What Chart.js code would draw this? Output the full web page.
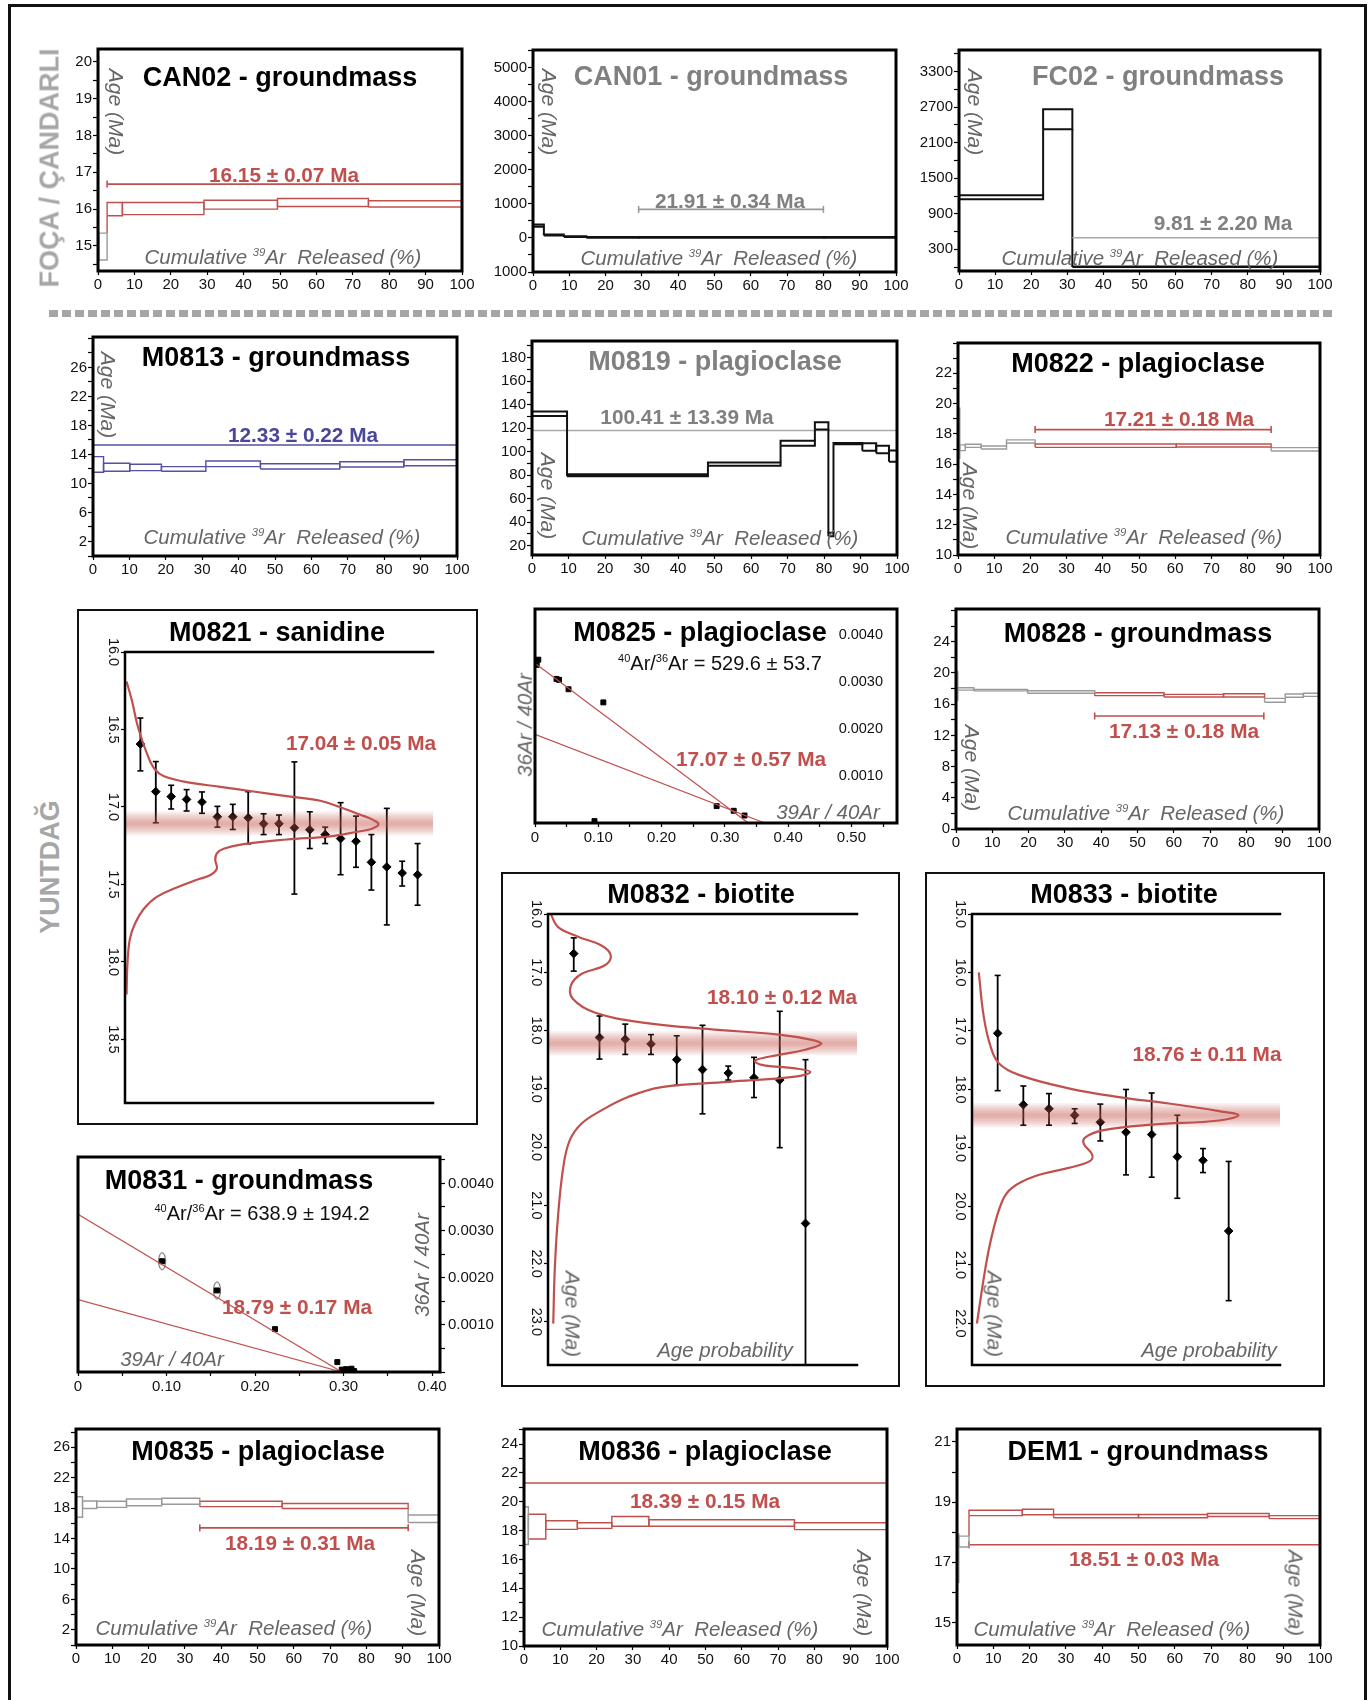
<!DOCTYPE html>
<html><head><meta charset="utf-8">
<script src="https://cdn.jsdelivr.net/npm/chart.js@4.4.1/dist/chart.umd.min.js"></script>
<style>
html,body{margin:0;padding:0;background:#fff}
body{width:1370px;height:1700px;position:relative;overflow:hidden;font-family:"Liberation Sans",Arial,Helvetica,sans-serif}
canvas{position:absolute}
.t{position:absolute;white-space:nowrap;line-height:1;transform-origin:50% 50%;z-index:5}
.ti{font-weight:bold;font-size:27px;color:#000}
.tg{color:#808080}
.pl{font-weight:bold;font-size:20.8px}
.red{color:#c0504d}.blue{color:#4a4699}.gt{color:#808080}
.ax{font-style:italic;font-size:20.5px;color:#666}
.ag{font-style:italic;font-size:21px;color:#666}
.rt{font-size:20px;color:#111}
.side{font-weight:bold;font-size:27px;color:#a6a6a6}
sup{font-size:0.55em;vertical-align:0;position:relative;top:-0.75em;line-height:0}
.frame{position:absolute;border:3px solid #111;box-sizing:border-box}
</style></head><body>
<div class="frame" style="left:8px;top:4px;width:1359px;height:1730px"></div>
<div style="position:absolute;left:49px;top:310px;width:1284px;height:7px;background:repeating-linear-gradient(90deg,#a6a6a6 0 9px,transparent 9px 13px)"></div>
<div class="frame" style="left:77px;top:609px;width:401px;height:516px;border-width:2.5px"></div>
<div class="frame" style="left:501px;top:872px;width:399px;height:515px;border-width:2.5px"></div>
<div class="frame" style="left:925px;top:872px;width:400px;height:515px;border-width:2.5px"></div>
<script>
// ================= DATA =================
const pctTicks = [0,10,20,30,40,50,60,70,80,90,100];

// --- CAN02 groundmass (step heating) ---
const can02Cum = [0, 0.25, 2.5, 6.7, 29.1, 49.3, 74.3, 100];
const can02Lo  = [14.4, 14.62, 15.82, 15.85, 16.0, 16.07, 16.06];
const can02Hi  = [20.15, 15.35, 16.18, 16.18, 16.24, 16.29, 16.23];
const can02Cls = ['g','g','r','r','r','r','r'];
const can02Plateau = [2.5, 100, 16.68];
const can02YTicks = [15,16,17,18,19,20];

// --- CAN01 groundmass ---
const can01Cum = [0, 3, 8.5, 14.7, 29, 80, 100];
const can01Lo  = [330, 75, 30, 5, 5, 5];
const can01Hi  = [395, 100, 50, 25, 25, 25];
const can01Cls = ['k','k','k','k','k','k'];
const can01Plateau = [29.1, 80, 838];
const can01YTicks = [-1000,0,1000,2000,3000,4000,5000];

// --- FC02 groundmass ---
const fc02Cum = [0, 23.3, 31.4, 49, 55, 63, 100];
const fc02Lo  = [1145, 2328, 0, 0, 0, 0];
const fc02Hi  = [1212, 2666, 8, 10, 8, 10];
const fc02Cls = ['k','k','k','k','k','k'];
const fc02Plateau = [31.4, 100, 496];
const fc02YTicks = [300,900,1500,2100,2700,3300];

// --- M0813 groundmass ---
const m0813Cum = [0, 2.9, 10.1, 18.8, 31, 46, 67.8, 85.4, 100];
const m0813Lo  = [11.55, 11.68, 11.77, 11.68, 12.32, 12.0, 12.27, 12.45];
const m0813Hi  = [13.7, 12.78, 12.65, 12.32, 13.1, 12.73, 13.0, 13.28];
const m0813Cls = ['b','b','b','b','b','b','b','b'];
const m0813Plateau = [0, 100, 15.3];
const m0813YTicks = [2,6,10,14,18,22,26];

// --- M0819 plagioclase ---
const m0819Cum = [0, 9.6, 48.2, 68.1, 77.5, 81.2, 82.6, 90.5, 94.3, 97.8, 100];
const m0819Lo  = [130.3, 79.1, 88, 105.1, 118.9, 28, 106.3, 100.9, 98.6, 91.4];
const m0819Hi  = [134.3, 80.9, 90.9, 109.4, 125.1, 31, 107.4, 107.1, 105.1, 101.1];
const m0819Cls = ['k','k','k','k','k','k','k','k','k','k'];
const m0819Plateau = [0, 100, 118];
const m0819YTicks = [20,40,60,80,100,120,140,160,180];

// --- M0822 plagioclase ---
const m0822Cum = [0, 0.5, 2.0, 6.4, 13.4, 21.3, 60.3, 86.5, 100];
const m0822Lo  = [16.39, 16.89, 17.11, 17.0, 17.4, 17.11, 17.13, 16.87];
const m0822Hi  = [19.69, 17.27, 17.31, 17.2, 17.6, 17.33, 17.33, 17.09];
const m0822Cls = ['g','g','g','g','g','r','r','g'];
const m0822Plateau = [21.3, 86.5, 18.28];
const m0822YTicks = [10,12,14,16,18,20,22];

// --- M0828 groundmass ---
const m0828Cum = [0, 0.5, 4.9, 19.7, 38.2, 57.3, 73.7, 85, 90.7, 95.7, 100];
const m0828Lo  = [16.5, 17.8, 17.7, 17.4, 17.09, 16.92, 16.92, 16.24, 16.88, 17.0];
const m0828Hi  = [20.15, 18.1, 17.9, 17.73, 17.47, 17.26, 17.34, 16.75, 17.3, 17.4];
const m0828Cls = ['g','g','g','g','r','r','r','g','g','g'];
const m0828Plateau = [38.2, 84.8, 14.49];
const m0828YTicks = [0,4,8,12,16,20,24];

// --- M0835 plagioclase ---
const m0835Cum = [0, 1.8, 5.7, 13.9, 23.6, 34.1, 56.8, 91.5, 100];
const m0835Lo  = [16.8, 17.95, 18.1, 18.3, 18.5, 18.2, 17.95, 16.1];
const m0835Hi  = [19.5, 18.94, 18.9, 19.2, 19.3, 18.9, 18.6, 17.1];
const m0835Cls = ['g','g','g','g','g','r','r','g'];
const m0835Plateau = [34.1, 91.5, 15.4];
const m0835YTicks = [2,6,10,14,18,22,26];

// --- M0836 plagioclase ---
const m0836Cum = [0, 1.2, 6, 14.7, 24.2, 34.4, 74.5, 100];
const m0836Lo  = [17.04, 17.42, 18.09, 18.16, 18.31, 18.31, 18.07];
const m0836Hi  = [19.66, 19.14, 18.69, 18.55, 18.98, 18.76, 18.55];
const m0836Cls = ['g','r','r','r','r','r','r'];
const m0836Plateau = [0, 100, 21.3];
const m0836YTicks = [10,12,14,16,18,20,22,24];

// --- DEM1 groundmass ---
const dem1Cum = [0, 0.5, 3.3, 18, 26.6, 50, 69, 86, 100];
const dem1Lo  = [16.33, 17.51, 18.55, 18.58, 18.48, 18.48, 18.52, 18.45];
const dem1Hi  = [17.94, 17.87, 18.73, 18.76, 18.59, 18.59, 18.62, 18.55];
const dem1Cls = ['g','g','r','r','r','r','r','r'];
const dem1Plateau = [3.3, 100, 17.58];
const dem1YTicks = [15,17,19,21];

// --- M0821 sanidine (age probability) ---
const m0821Age = [16.594,16.901,16.933,16.951,16.968,17.063,17.063,17.07,17.108,17.108,17.134,17.147,17.178,17.204,17.221,17.357,17.387,17.426,17.437];
const m0821Min = [16.426,16.707,16.86,16.888,16.903,16.996,16.983,16.901,17.044,17.052,16.709,17.031,17.13,16.972,17.059,17.178,17.009,17.35,17.236];
const m0821Max = [16.767,17.102,17.013,17.026,17.041,17.13,17.145,17.238,17.178,17.178,17.562,17.268,17.236,17.437,17.389,17.536,17.761,17.51,17.634];
const m0821Mean = 17.106;
const m0821CurveP   = [0.5,2.2,4.3,7.6,9.8,12.5,20.0,30.9,41.7,52.5,63.4,71.0,76.4,80.2,82.3,80.2,75.3,66.6,52.5,38.5,32.0,29.8,29.3,29.8,27.6,23.3,16.8,10.3,6.0,3.3,1.6,0.8,0.5];
const m0821CurveAge = [16.19,16.31,16.49,16.68,16.76,16.80,16.84,16.87,16.90,16.93,16.96,17.01,17.05,17.08,17.11,17.14,17.16,17.19,17.21,17.24,17.27,17.30,17.34,17.40,17.44,17.47,17.52,17.58,17.66,17.75,17.85,18.01,18.21];
const m0821YTicks = [16.0,16.5,17.0,17.5,18.0,18.5];

// --- M0832 biotite ---
const m0832Age = [16.68,18.12,18.15,18.23,18.50,18.67,18.73,18.81,18.85,21.31];
const m0832Min = [16.41,17.75,17.89,18.07,18.09,17.91,18.61,18.46,17.67,18.50];
const m0832Max = [16.98,18.49,18.41,18.41,18.94,19.43,18.85,19.15,20.01,23.74];
const m0832Mean = 18.22;
const m0832CurveP   = [0.9,3.2,9.7,17.3,20.3,18.4,10.8,7.4,8.1,15.1,31.4,53.0,74.6,85.4,88.4,83.2,71.4,67.0,69.2,80.0,84.9,80.0,58.4,36.8,25.9,17.3,10.8,7.0,4.9,3.2,2.2,1.7];
const m0832CurveAge = [16.0,16.22,16.39,16.54,16.71,16.88,17.03,17.23,17.46,17.69,17.87,17.98,18.07,18.16,18.23,18.33,18.45,18.52,18.59,18.65,18.71,18.79,18.88,18.97,19.14,19.37,19.6,19.89,20.36,21.22,22.09,23.03];
const m0832YTicks = [16,17,18,19,20,21,22,23];

// --- M0833 biotite ---
const m0833Age = [17.04,18.26,18.33,18.44,18.56,18.73,18.77,19.15,19.21,20.42];
const m0833Min = [16.05,17.94,18.07,18.33,18.25,18.0,18.06,18.44,19.01,19.23];
const m0833Max = [18.02,18.61,18.61,18.58,18.88,19.46,19.5,19.86,19.42,21.61];
const m0833Mean = 18.44;
const m0833CurveP   = [2.2,3.8,6.0,8.7,15.2,31.4,47.7,63.9,80.2,86.5,80.2,58.5,42.3,36.8,36.3,39.0,38.4,31.4,20.6,13.0,9.8,6.5,4.3,1.6];
const m0833CurveAge = [16.0,16.75,17.26,17.55,17.75,17.98,18.13,18.24,18.37,18.44,18.53,18.6,18.7,18.82,18.93,19.11,19.22,19.34,19.48,19.68,19.91,20.49,21.07,22.0];
const m0833YTicks = [15,16,17,18,19,20,21,22];

// --- M0825 plagioclase (inverse isochron) ---
const m0825X = [0.0027,0.0052,0.034,0.038,0.053,0.108,0.094,0.287,0.314,0.331];
const m0825Y = [0.00337,0.00348,0.00307,0.00305,0.00285,0.00257,0.00004,0.00036,0.00026,0.00016];
const m0825Line1 = [0, 0.003406, 0.337, 0];
const m0825Line2 = [0, 0.001889, 0.363, 0];
const m0825XTicks = [0,0.1,0.2,0.3,0.4,0.5];
const isoYTicks = [0.001,0.002,0.003,0.004];

// --- M0831 groundmass (inverse isochron) ---
const m0831X = [0.095,0.157,0.2226,0.293,0.298,0.303,0.309,0.312];
const m0831Y = [0.00235,0.00173,0.00091,0.00021,0.00005,0.00006,0.00007,0.00002];
const m0831Ell = [0,1];
const m0831Line1 = [0, 0.003347, 0.298, 0];
const m0831Line2 = [0, 0.001537, 0.298, 0];
const m0831XTicks = [0,0.1,0.2,0.3,0.4];

// ================= HELPERS =================
Chart.defaults.font.family = "'Liberation Sans', Arial, Helvetica, sans-serif";
Chart.defaults.font.size = 15;
Chart.defaults.color = '#111';

const RED='#c0504d', GRAY='#9a9a9a', BLUE='#5450a4', BLACK='#111';
const COL={r:RED,g:GRAY,b:BLUE,k:BLACK};
const WID={r:1.4,g:1.4,b:1.4,k:2};

const framePlugin={id:'frame',afterDraw(chart,args,opts){
  const m=opts&&opts.mode; if(!m) return;
  const a=chart.chartArea, ctx=chart.ctx; ctx.save(); ctx.strokeStyle='#000'; ctx.lineCap='square';
  if(m==='box'){ctx.lineWidth=3;ctx.strokeRect(a.left,a.top,a.right-a.left,a.bottom-a.top);}
  else{ctx.lineWidth=2.5;ctx.beginPath();ctx.moveTo(a.right,a.top);ctx.lineTo(a.left,a.top);ctx.lineTo(a.left,a.bottom);ctx.lineTo(a.right,a.bottom);ctx.stroke();}
  ctx.restore();}};
Chart.register(framePlugin);

function seg(points,color,width,extra){
  return Object.assign({type:'scatter',data:points,showLine:true,borderColor:color,borderWidth:width,pointRadius:0,pointHoverRadius:0,fill:false,tension:0},extra||{});
}
function stepSets(cum,lo,hi,cls){
  const out=[];
  for(let i=0;i<lo.length;i++){
    const c=COL[cls[i]], w=WID[cls[i]];
    out.push(seg([{x:cum[i],y:lo[i]},{x:cum[i],y:hi[i]},{x:cum[i+1],y:hi[i]},{x:cum[i+1],y:lo[i]},{x:cum[i],y:lo[i]}],c,w));
    if(i>0){
      let a=null,b=null;
      if(hi[i-1]<lo[i]){a=hi[i-1];b=lo[i];} else if(hi[i]<lo[i-1]){a=hi[i];b=lo[i-1];}
      if(a!==null) out.push(seg([{x:cum[i],y:a},{x:cum[i],y:b}],c,w));
    }
  }
  return out;
}
function plateauDS(p,color,caps){
  return seg([{x:p[0],y:p[2]},{x:p[1],y:p[2]}],color,1.6,
    caps?{pointRadius:3.5,pointStyle:'line',pointRotation:90,pointBorderColor:color,pointBorderWidth:1.6}:{});
}
function tickBuilder(major,minor){
  return function(s){
    const lo=Math.min(s.min,s.max), hi=Math.max(s.min,s.max), vals=[];
    if(minor){for(let k=Math.ceil(lo/minor-1e-7);k*minor<=hi+1e-9;k++) vals.push(+(k*minor).toFixed(6));}
    major.forEach(m=>{if(m>=lo-1e-9&&m<=hi+1e-9&&!vals.some(v=>Math.abs(v-m)<1e-9)) vals.push(m);});
    vals.sort((a,b)=>a-b);
    if(s.options.reverse) vals.reverse();
    s.ticks=vals.map(v=>({value:v}));
  };
}
function valAxis(o){
  const set=o.major.map(v=>+v.toFixed(6));
  const a={type:'linear',min:o.min,max:o.max,bounds:'data',reverse:!!o.reverse,position:o.position,
    grid:{display:true,drawOnChartArea:false,drawTicks:o.drawTicks!==false,tickLength:o.tickLen||5,tickColor:'#000',tickWidth:1.2,color:'#000'},
    border:{display:false},
    afterBuildTicks:tickBuilder(o.major,o.minor),
    afterFit:(s)=>{if(s.isHorizontal()) s.height=o.size; else s.width=o.size;},
    ticks:{autoSkip:false,padding:(o.pad===undefined?2:o.pad),color:'#111',font:{size:o.fs||15},
      callback:(v)=>{const n=+(+v).toFixed(6);return set.some(m=>Math.abs(m-n)<1e-9)?o.fmt(n):'';}}
  };
  if(o.rot!==undefined){a.ticks.minRotation=o.rot;a.ticks.maxRotation=o.rot;a.ticks.crossAlign='center';}
  else if(o.position==='bottom'){a.ticks.minRotation=0;a.ticks.maxRotation=0;}
  if(o.mirror) a.ticks.mirror=true;
  return a;
}
function makeChart(rect,pad,scales,datasets,frameMode,lay){
  const l=Math.round(rect[0]),t=Math.round(rect[1]),r=Math.round(rect[2]),b=Math.round(rect[3]);
  const W=r-l+pad[0]+pad[2], H=b-t+pad[1]+pad[3];
  const cv=document.createElement('canvas'); cv.width=W; cv.height=H;
  cv.style.left=(l-pad[0])+'px'; cv.style.top=(t-pad[1])+'px'; cv.style.width=W+'px'; cv.style.height=H+'px';
  document.body.appendChild(cv);
  return new Chart(cv,{type:'scatter',data:{datasets},options:{responsive:false,maintainAspectRatio:false,animation:false,devicePixelRatio:1,events:[],
    layout:{padding:lay},
    plugins:{legend:{display:false},tooltip:{enabled:false},frame:{mode:frameMode}},
    scales}});
}
function stepChart(rect,y,sets){
  const pad=[60,15,25,30];
  const scales={
    x:valAxis({min:0,max:100,major:pctTicks,minor:10,fmt:v=>String(v),size:30,tickLen:4,pad:1,position:'bottom'}),
    y:valAxis({min:y.min,max:y.max,major:y.major,minor:y.minor,fmt:y.fmt||(v=>String(v)),size:60,tickLen:5,pad:1,position:'left'})
  };
  return makeChart(rect,pad,scales,sets,'box',{left:0,top:15,right:25,bottom:0});
}
function probSets(ages,mins,maxs,mean,xmax,cp,ca){
  const curve=seg(cp.map((p,i)=>({x:p,y:ca[i]})),RED,2.2,{xAxisID:'xp',tension:0.4});
  const band=[24,20,16,12,8,4].map(w=>seg([{x:0,y:mean},{x:xmax,y:mean}],'rgba(196,84,82,0.1)',w));
  const bars=[],caps=[];
  ages.forEach((a,i)=>{bars.push({x:i+1,y:mins[i]},{x:i+1,y:maxs[i]},{x:i+1,y:null});caps.push({x:i+1,y:mins[i]},{x:i+1,y:maxs[i]});});
  const barDS=seg(bars,'#000',1.8,{spanGaps:false});
  const capDS={type:'scatter',data:caps,showLine:false,pointStyle:'line',pointRadius:3,pointBorderColor:'#000',pointBorderWidth:1.6};
  const ptDS={type:'scatter',data:ages.map((a,i)=>({x:i+1,y:a})),showLine:false,pointStyle:'rectRot',pointRadius:4.3,pointBackgroundColor:'#000',pointBorderColor:'#000',pointBorderWidth:1};
  return [curve,...band,ptDS,capDS,barDS];
}
function probChart(rect,y,xmax,sets){
  const pad=[40,15,15,15];
  const scales={
    x:{type:'linear',min:0,max:xmax,display:false},
    xp:{type:'linear',min:0,max:100,display:false,position:'bottom'},
    y:valAxis({min:y.min,max:y.max,major:y.major,minor:y.minor,fmt:v=>v.toFixed(1),size:40,tickLen:4,pad:-6,fs:14.5,rot:-90,reverse:true,position:'left'})
  };
  return makeChart(rect,pad,scales,sets,'tb',{left:0,top:15,right:15,bottom:15});
}
function ellipseImg(){const c=document.createElement('canvas');c.width=10;c.height=20;const g=c.getContext('2d');g.strokeStyle='#555';g.lineWidth=1;g.beginPath();g.ellipse(5,10,3.5,8.5,0,0,Math.PI*2);g.stroke();return c;}
function isoSets(xs,ys,l1,l2,ell){
  const sets=[
    seg([{x:l1[0],y:l1[1]},{x:l1[2],y:l1[3]}],RED,1.2),
    seg([{x:l2[0],y:l2[1]},{x:l2[2],y:l2[3]}],RED,1.2),
    {type:'scatter',data:xs.map((x,i)=>({x,y:ys[i]})),showLine:false,pointStyle:'rect',pointRadius:3.5,pointBackgroundColor:'#000',pointBorderColor:'#000'}
  ];
  if(ell){const img=ellipseImg();sets.push({type:'scatter',data:ell.map(i=>({x:xs[i],y:ys[i]})),showLine:false,pointStyle:img,pointRadius:8});}
  return sets;
}
function isoChart(rect,xmax,xMajor,mirror,sets){
  const pad=mirror?[15,15,8,30]:[15,15,70,30];
  const scales={
    x:valAxis({min:0,max:xmax,major:xMajor,minor:0.05,fmt:v=>v===0?'0':v.toFixed(2),size:30,tickLen:4,pad:2,position:'bottom'}),
    y:valAxis({min:0,max:0.00456,major:isoYTicks,minor:0.0005,fmt:v=>v.toFixed(4),size:pad[2],tickLen:5,drawTicks:!mirror,pad:mirror?-14:3,fs:mirror?14.5:15,position:'right',mirror:mirror})
  };
  return makeChart(rect,pad,scales,sets,'box',{left:15,top:15,right:0,bottom:0});
}
function T(html,x,y,cls,rot){
  const d=document.createElement('div'); d.className='t '+cls; d.innerHTML=html;
  d.style.left=x+'px'; d.style.top=y+'px';
  d.style.transform='translate(-50%,-50%)'+(rot?` rotate(${rot}deg)`:'');
  document.body.appendChild(d);
}

// ================= CHARTS =================
stepChart([98,49,462,271],{min:14.32,max:20.35,major:can02YTicks,minor:0.5},
  [...stepSets(can02Cum,can02Lo,can02Hi,can02Cls),plateauDS(can02Plateau,RED,true)]);
stepChart([533,50,896,272],{min:-1000,max:5517,major:can01YTicks,minor:500,fmt:v=>String(Math.abs(v))},
  [...stepSets(can01Cum,can01Lo,can01Hi,can01Cls),plateauDS(can01Plateau,GRAY,true)]);
stepChart([959,50,1320,271],{min:-66,max:3666,major:fc02YTicks,minor:300},
  [plateauDS(fc02Plateau,'#aaa',false),...stepSets(fc02Cum,fc02Lo,fc02Hi,fc02Cls)]);
stepChart([93,337,457,556],{min:0,max:30.2,major:m0813YTicks,minor:2},
  [...stepSets(m0813Cum,m0813Lo,m0813Hi,m0813Cls),plateauDS(m0813Plateau,BLUE,false)]);
stepChart([532,341,897,555],{min:12.07,max:194.2,major:m0819YTicks,minor:10},
  [...stepSets(m0819Cum,m0819Lo,m0819Hi,m0819Cls),plateauDS(m0819Plateau,'#aaa',false)]);
stepChart([958,343,1320,555],{min:10,max:24,major:m0822YTicks,minor:1},
  [...stepSets(m0822Cum,m0822Lo,m0822Hi,m0822Cls),plateauDS(m0822Plateau,RED,true)]);
stepChart([956,609,1319,829],{min:0,max:28.2,major:m0828YTicks,minor:2},
  [...stepSets(m0828Cum,m0828Lo,m0828Hi,m0828Cls),plateauDS(m0828Plateau,RED,true)]);
stepChart([76,1429,439,1645],{min:0,max:28.4,major:m0835YTicks,minor:2},
  [...stepSets(m0835Cum,m0835Lo,m0835Hi,m0835Cls),plateauDS(m0835Plateau,RED,true)]);
stepChart([524,1429,887,1646],{min:10,max:25.05,major:m0836YTicks,minor:1},
  [...stepSets(m0836Cum,m0836Lo,m0836Hi,m0836Cls),plateauDS(m0836Plateau,RED,false)]);
stepChart([957,1429,1320,1645],{min:14.25,max:21.43,major:dem1YTicks,minor:1},
  [...stepSets(dem1Cum,dem1Lo,dem1Hi,dem1Cls),plateauDS(dem1Plateau,RED,true)]);

probChart([125,652,433,1103],{min:16.0,max:18.91,major:m0821YTicks,minor:0.5},20,
  probSets(m0821Age,m0821Min,m0821Max,m0821Mean,20,m0821CurveP,m0821CurveAge));
probChart([548,914,857,1365],{min:16.0,max:23.74,major:m0832YTicks,minor:1},12,
  probSets(m0832Age,m0832Min,m0832Max,m0832Mean,12,m0832CurveP,m0832CurveAge));
probChart([972,914,1280,1365],{min:15.0,max:22.71,major:m0833YTicks,minor:1},12,
  probSets(m0833Age,m0833Min,m0833Max,m0833Mean,12,m0833CurveP,m0833CurveAge));

isoChart([535,609,897,823],0.572,m0825XTicks,true,isoSets(m0825X,m0825Y,m0825Line1,m0825Line2,null));
isoChart([78,1157,440,1372],0.409,m0831XTicks,false,isoSets(m0831X,m0831Y,m0831Line1,m0831Line2,m0831Ell));

// ================= TEXT =================
T('FOÇA / ÇANDARLI',50,168,'side',-90);
T('YUNTDAĞ',50,867,'side',-90);

T('CAN02 - groundmass',280,77,'ti');
T('CAN01 - groundmass',711,76,'ti tg');
T('FC02 - groundmass',1158,76,'ti tg');
T('M0813 - groundmass',276,357,'ti');
T('M0819 - plagioclase',715,361,'ti tg');
T('M0822 - plagioclase',1138,363,'ti');
T('M0821 - sanidine',277,632,'ti');
T('M0825 - plagioclase',700,632,'ti');
T('M0828 - groundmass',1138,633,'ti');
T('M0832 - biotite',701,894,'ti');
T('M0833 - biotite',1124,894,'ti');
T('M0831 - groundmass',239,1180,'ti');
T('M0835 - plagioclase',258,1451,'ti');
T('M0836 - plagioclase',705,1451,'ti');
T('DEM1 - groundmass',1138,1451,'ti');

T('16.15 ± 0.07 Ma',284,175,'pl red');
T('21.91 ± 0.34 Ma',730,201,'pl gt');
T('9.81 ± 2.20 Ma',1223,223,'pl gt');
T('12.33 ± 0.22 Ma',303,435,'pl blue');
T('100.41 ± 13.39 Ma',687,417,'pl gt');
T('17.21 ± 0.18 Ma',1179,419,'pl red');
T('17.04 ± 0.05 Ma',361,743,'pl red');
T('17.07 ± 0.57 Ma',751,759,'pl red');
T('17.13 ± 0.18 Ma',1184,731,'pl red');
T('18.10 ± 0.12 Ma',782,997,'pl red');
T('18.76 ± 0.11 Ma',1207,1054,'pl red');
T('18.79 ± 0.17 Ma',297,1307,'pl red');
T('18.19 ± 0.31 Ma',300,1543,'pl red');
T('18.39 ± 0.15 Ma',705,1501,'pl red');
T('18.51 ± 0.03 Ma',1144,1559,'pl red');

[[116,112],[549,112],[975,112],[108,395],[548,496],[970,506],[972,768],[573,1314],[995,1314],[418,1593],[864,1593],[1296,1593]]
  .forEach(p=>T('Age (Ma)',p[0],p[1],'ag',90));
const cumTxt='Cumulative <sup>39</sup>Ar&nbsp; Released (%)';
[[283,257],[719,258],[1140,258],[282,537],[720,538],[1144,537],[1146,813],[234,1628],[680,1629],[1112,1629]]
  .forEach(p=>T(cumTxt,p[0],p[1],'ax'));
T('Age probability',725,1350,'ax');
T('Age probability',1209,1350,'ax');

T('<sup>40</sup>Ar/<sup>36</sup>Ar = 529.6 ± 53.7',720,663,'rt');
T('36Ar / 40Ar',525,725,'ax',-90);
T('39Ar / 40Ar',828,812,'ax');
T('<sup>40</sup>Ar/<sup>36</sup>Ar = 638.9 ± 194.2',262,1213,'rt');
T('36Ar / 40Ar',422,1265,'ax',-90);
T('39Ar / 40Ar',172,1359,'ax');
</script>
</body></html>
